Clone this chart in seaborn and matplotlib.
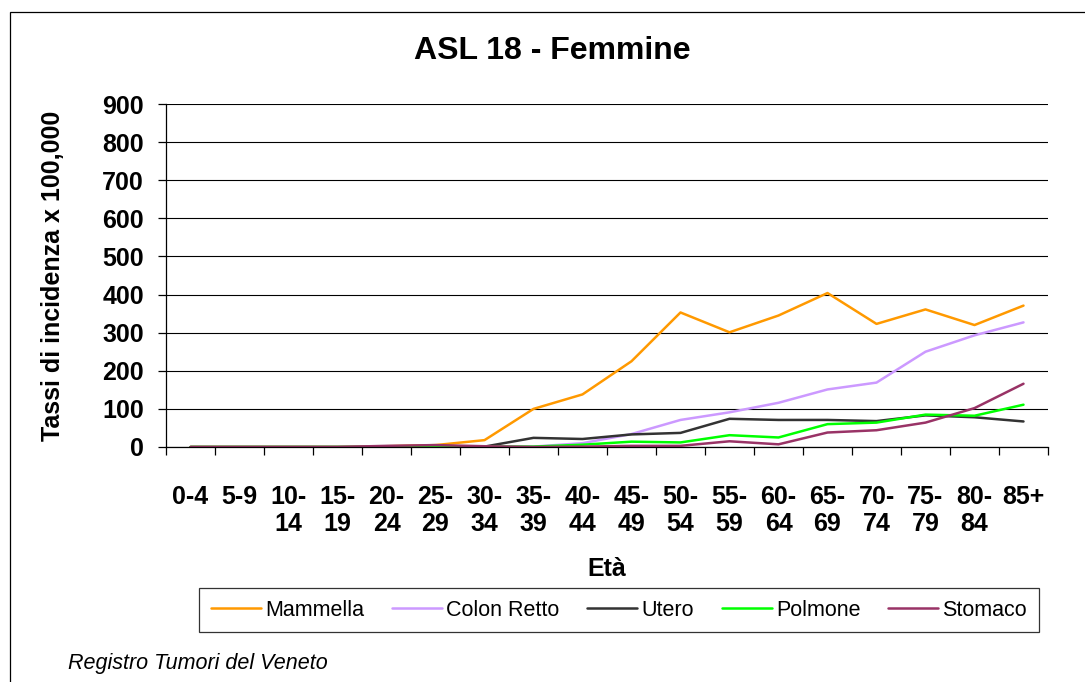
import numpy as np
import pandas as pd
import seaborn as sns
import matplotlib.pyplot as plt
from matplotlib.patches import Rectangle

ages = ["0-4", "5-9", "10-14", "15-19", "20-24", "25-29", "30-34", "35-39", "40-44",
        "45-49", "50-54", "55-59", "60-64", "65-69", "70-74", "75-79", "80-84", "85+"]
tick_labels = ["0-4", "5-9", "10-\n14", "15-\n19", "20-\n24", "25-\n29", "30-\n34", "35-\n39",
               "40-\n44", "45-\n49", "50-\n54", "55-\n59", "60-\n64", "65-\n69", "70-\n74",
               "75-\n79", "80-\n84", "85+"]

mammella = [0, 0, 0, 0, 2, 5, 18, 100, 138, 225, 353, 301, 345, 404, 323, 361, 320, 371]
colon_retto = [0, 0, 0, 0, 1, 2, 1, 1, 10, 34, 71, 91, 116, 151, 169, 250, 293, 327]
utero = [0, 0, 0, 0, 0, 1, 1, 24, 21, 33, 37, 74, 71, 71, 68, 83, 78, 67]
polmone = [0, 0, 0, 0, 0, 0, 1, 1, 6, 14, 12, 31, 25, 60, 64, 85, 82, 111]
stomaco = [0, 0, 0, 0, 3, 5, 2, 0, 1, 3, 3, 15, 7, 38, 44, 64, 102, 166]

series = ["Mammella", "Colon Retto", "Utero", "Polmone", "Stomaco"]
colors = ["#FF9900", "#CC99FF", "#333333", "#00FF00", "#993366"]

df = pd.DataFrame({
    "Età": ages * 5,
    "valore": mammella + colon_retto + utero + polmone + stomaco,
    "sede": np.repeat(series, len(ages)),
})

sns.set_style("white")
plt.rcParams["font.family"] = ["Liberation Sans", "DejaVu Sans"]
plt.rcParams.update({"text.color": "black", "axes.labelcolor": "black",
                     "xtick.color": "black", "ytick.color": "black",
                     "xtick.bottom": True, "ytick.left": True})

fig = plt.figure(figsize=(10.85, 6.82), dpi=100)
ax = fig.add_axes([166 / 1085, 1 - 447 / 682, 882 / 1085, 343 / 682])

sns.lineplot(data=df, x="Età", y="valore", hue="sede", hue_order=series,
             palette=colors, linewidth=1.8, sort=False, ax=ax, legend=False)

ax.set_xlim(-0.5, len(ages) - 0.5)
ax.set_ylim(0, 900)
ax.set_yticks(range(0, 901, 100))
ax.yaxis.grid(True, color="black", linewidth=0.8)
ax.set_axisbelow(True)
for s in ["top", "right"]:
    ax.spines[s].set_visible(False)
for s in ["left", "bottom"]:
    ax.spines[s].set_color("black")
    ax.spines[s].set_linewidth(0.9)

ax.set_xticks(range(len(ages)))
ax.set_xticklabels(tick_labels, fontsize=18, fontweight="bold", linespacing=1.2, va="top")
ax.set_xticks(np.arange(-0.5, len(ages), 1), minor=True)
ax.tick_params(axis="x", which="major", length=0, pad=27)
ax.tick_params(axis="x", which="minor", length=6, width=0.9, color="black", direction="out")
ax.tick_params(axis="y", which="major", length=6, width=0.9, color="black",
               direction="out", labelsize=18, pad=10)
for t in ax.get_yticklabels():
    t.set_fontweight("bold")

ax.set_xlabel("Età", fontsize=18, fontweight="bold", labelpad=15)
ax.set_ylabel("Tassi di incidenza x 100,000", fontsize=18, fontweight="bold", labelpad=27)
fig.text(552 / 1085, 1 - 51 / 682, "ASL 18 - Femmine", fontsize=23, fontweight="bold",
         ha="center", va="center")

handles = [plt.Line2D([], [], color=c, linewidth=1.8) for c in colors]
leg = fig.legend(handles, series, loc="center", bbox_to_anchor=(619 / 1085, 1 - 610 / 682),
                 ncol=5, fontsize=15.5, frameon=True, fancybox=False, handlelength=2.32,
                 handletextpad=0.19, columnspacing=1.3, borderpad=0.55, borderaxespad=0)
leg.get_frame().set_edgecolor("black")
leg.get_frame().set_linewidth(0.9)

fig.text(68 / 1085, 1 - 664 / 682, "Registro Tumori del Veneto", fontsize=15.5,
         style="italic", ha="left", va="center")

fig.patches.append(Rectangle((10 / 1085, -0.1), 1.2, 1 - 12 / 682 + 0.1,
                             transform=fig.transFigure, fill=False,
                             edgecolor="black", linewidth=0.9))

fig.savefig("out.png", dpi=100)
